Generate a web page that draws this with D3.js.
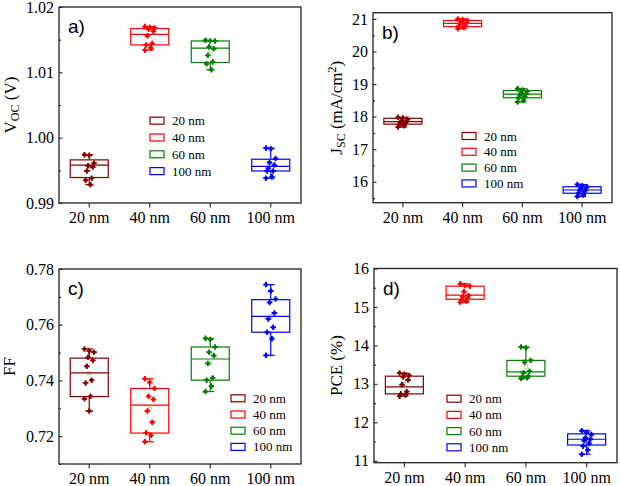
<!DOCTYPE html>
<html>
<head>
<meta charset="utf-8">
<script src="https://cdn.jsdelivr.net/npm/d3@7"></script>
<style>
  body { margin: 0; background: #fff; }
  svg { display: block; }
</style>
</head>
<body>
<svg id="chart" width="620" height="486"></svg>
<script>
// categories
const groups = ["20 nm", "40 nm", "60 nm", "100 nm"];

// box stats per group: [q1, median, q3]
const vocBoxes = [[0.9939, 0.9958, 0.9966], [1.0142, 1.0158, 1.0167], [1.0115, 1.0137, 1.0148], [0.9949, 0.9956, 0.9967]];
const vocPoints = [
  [0.9974, 0.9973, 0.9961, 0.9957, 0.9955, 0.9949, 0.9938, 0.9935, 0.9928],
  [1.0170, 1.0169, 1.0168, 1.0166, 1.0163, 1.0156, 1.0144, 1.0142, 1.0137, 1.0134],
  [1.0149, 1.0148, 1.0148, 1.0139, 1.0136, 1.0126, 1.0116, 1.0113, 1.0104],
  [0.9984, 0.9983, 0.9968, 0.9962, 0.9958, 0.9953, 0.9949, 0.9949, 0.9940, 0.9938]
];

const jscBoxes = [[17.77, 17.85, 17.95], [20.76, 20.86, 20.95], [18.58, 18.69, 18.80], [15.65, 15.75, 15.85]];
const jscPoints = [
  [17.98, 17.96, 17.92, 17.88, 17.85, 17.82, 17.80, 17.76, 17.72, 17.68],
  [21.00, 20.98, 20.95, 20.92, 20.88, 20.85, 20.82, 20.78, 20.74, 20.70],
  [18.86, 18.82, 18.78, 18.74, 18.70, 18.66, 18.62, 18.58, 18.50, 18.45],
  [15.92, 15.88, 15.85, 15.80, 15.77, 15.74, 15.70, 15.65, 15.60, 15.55]
];

const ffBoxes = [[0.7342, 0.7427, 0.7480], [0.7211, 0.7311, 0.7371], [0.7401, 0.7477, 0.7520], [0.7573, 0.7630, 0.7690]];
const ffPoints = [
  [0.7513, 0.7505, 0.7501, 0.7483, 0.7472, 0.7451, 0.7401, 0.7391, 0.7343, 0.7334, 0.7290],
  [0.7406, 0.7393, 0.7371, 0.7343, 0.7332, 0.7290, 0.7250, 0.7212, 0.7203, 0.7180],
  [0.7551, 0.7547, 0.7520, 0.7501, 0.7489, 0.7461, 0.7409, 0.7401, 0.7379, 0.7360],
  [0.7744, 0.7721, 0.7692, 0.7680, 0.7642, 0.7621, 0.7591, 0.7573, 0.7550, 0.7490]
];

const pceBoxes = [[12.74, 12.92, 13.20], [15.20, 15.31, 15.54], [13.20, 13.31, 13.61], [11.41, 11.56, 11.70]];
const pcePoints = [
  [13.28, 13.25, 13.22, 13.18, 13.10, 12.98, 12.80, 12.74, 12.71, 12.68],
  [15.60, 15.56, 15.54, 15.40, 15.30, 15.27, 15.24, 15.18, 15.15, 15.12],
  [13.96, 13.94, 13.61, 13.56, 13.33, 13.29, 13.20, 13.18, 13.16, 13.14],
  [11.78, 11.74, 11.68, 11.60, 11.56, 11.52, 11.45, 11.38, 11.28, 11.17]
];

// tick values
const vocTicks = [0.99, 1.00, 1.01, 1.02];
const vocMinor = [0.995, 1.005, 1.015];
const jscTicks = [16, 17, 18, 19, 20, 21];
const jscMinor = [15.5, 16.5, 17.5, 18.5, 19.5, 20.5];
const ffTicks = [0.72, 0.74, 0.76, 0.78];
const ffMinor = [0.71, 0.73, 0.75, 0.77];
const pceTicks = [11, 12, 13, 14, 15, 16];
const pceMinor = [11.5, 12.5, 13.5, 14.5, 15.5];

const colors = ["#800000", "#ff0000", "#008000", "#0000ff"];
const serif = "'Liberation Serif', 'Times New Roman', serif";
const sans = "'Liberation Sans', Arial, sans-serif";

const svg = d3.select("#chart");

let panels = [
  {letter: "a)", boxes: vocBoxes, points: vocPoints, ticks: vocTicks, minor: vocMinor, fmt: ".2f",
   domain: [0.99, 1.02], left: 59, right: 301, top: 7, bottom: 203,
   title: "voc", titleX: 16, legX: 150, legY: 120.7, legDy: 16.8},
  {letter: "b)", boxes: jscBoxes, points: jscPoints, ticks: jscTicks, minor: jscMinor, fmt: "d",
   domain: [15.36, 21.19], left: 373, right: 612, top: 12.7, bottom: 202.7,
   title: "jsc", titleX: 342, legX: 462, legY: 136, legDy: 15.8},
  {letter: "c)", boxes: ffBoxes, points: ffPoints, ticks: ffTicks, minor: ffMinor, fmt: ".2f",
   domain: [0.71, 0.78], left: 59, right: 301, top: 269, bottom: 464,
   title: "ff", titleX: 15, legX: 231, legY: 398.3, legDy: 16.2},
  {letter: "d)", boxes: pceBoxes, points: pcePoints, ticks: pceTicks, minor: pceMinor, fmt: "d",
   domain: [10.95, 16], left: 374, right: 617, top: 268.5, bottom: 462.7,
   title: "pce", titleX: 342, legX: 447, legY: 398.7, legDy: 16.2}
];

function drawTitle(g, p) {
  let cy = (p.top + p.bottom) / 2;
  let t = g.append("text")
    .attr("transform", "translate(" + p.titleX + "," + cy + ") rotate(-90)")
    .attr("text-anchor", "middle")
    .style("font-family", serif)
    .style("font-size", "17px")
    .attr("fill", "#000");
  if (p.title == "voc") {
    t.append("tspan").text("V");
    t.append("tspan").style("font-size", "12px").attr("dy", 3).text("OC");
    t.append("tspan").attr("dy", -3).text(" (V)");
  } else if (p.title == "jsc") {
    t.append("tspan").text("J");
    t.append("tspan").style("font-size", "12px").attr("dy", 3).text("SC");
    t.append("tspan").attr("dy", -3).text(" (mA/cm");
    t.append("tspan").style("font-size", "12px").attr("dy", -6).text("2");
    t.append("tspan").attr("dy", 6).text(")");
  } else if (p.title == "ff") {
    t.text("FF");
  } else {
    t.text("PCE (%)");
  }
}

function drawPanel(p) {
  let g = svg.append("g");

  let x = d3.scaleBand().domain(groups).range([p.left, p.right]);
  let y = d3.scaleLinear().domain(p.domain).range([p.bottom, p.top]);
  let cx = d => x(d) + x.bandwidth() / 2;
  let half = 19;

  // y axis major + minor ticks (inward)
  let yAxis = g.append("g")
    .attr("transform", "translate(" + p.left + ",0)")
    .call(d3.axisLeft(y).tickValues(p.ticks).tickFormat(d3.format(p.fmt))
      .tickSizeInner(-3.5).tickSizeOuter(0).tickPadding(5));
  yAxis.select(".domain").remove();
  yAxis.selectAll("text").style("font-family", serif).style("font-size", "16px").attr("fill", "#000");
  yAxis.selectAll("line").attr("stroke", "#222").attr("stroke-width", 1.1);

  let yMinor = g.append("g")
    .attr("transform", "translate(" + p.left + ",0)")
    .call(d3.axisLeft(y).tickValues(p.minor).tickFormat("").tickSizeInner(-2).tickSizeOuter(0));
  yMinor.select(".domain").remove();
  yMinor.selectAll("line").attr("stroke", "#222").attr("stroke-width", 1.1);

  // x axis (outward ticks)
  let xAxis = g.append("g")
    .attr("transform", "translate(0," + p.bottom + ")")
    .call(d3.axisBottom(x).tickSizeInner(4.5).tickSizeOuter(0).tickPadding(4));
  xAxis.select(".domain").remove();
  xAxis.selectAll("text").style("font-family", serif).style("font-size", "16px").attr("fill", "#000");
  xAxis.selectAll("line").attr("stroke", "#222").attr("stroke-width", 1.1);

  // frame
  g.append("rect")
    .attr("x", p.left).attr("y", p.top)
    .attr("width", p.right - p.left).attr("height", p.bottom - p.top)
    .attr("fill", "none").attr("stroke", "#222").attr("stroke-width", 1.3);

  // boxes
  groups.forEach((grp, i) => {
    let b = p.boxes[i];
    let pts = p.points[i];
    let lo = d3.min(pts), hi = d3.max(pts);
    let c = colors[i];
    let bx = g.append("g").attr("stroke", c).attr("stroke-width", 1.2).attr("fill", "none");

    // whiskers
    if (hi > b[2]) {
      bx.append("line").attr("x1", cx(grp)).attr("x2", cx(grp)).attr("y1", y(b[2])).attr("y2", y(hi));
      bx.append("line").attr("x1", cx(grp) - 4).attr("x2", cx(grp) + 4).attr("y1", y(hi)).attr("y2", y(hi));
    }
    if (lo < b[0]) {
      bx.append("line").attr("x1", cx(grp)).attr("x2", cx(grp)).attr("y1", y(b[0])).attr("y2", y(lo));
      bx.append("line").attr("x1", cx(grp) - 4).attr("x2", cx(grp) + 4).attr("y1", y(lo)).attr("y2", y(lo));
    }

    bx.append("rect")
      .attr("x", cx(grp) - half).attr("y", y(b[2]))
      .attr("width", half * 2).attr("height", y(b[0]) - y(b[2]));
    bx.append("line")
      .attr("x1", cx(grp) - half).attr("x2", cx(grp) + half)
      .attr("y1", y(b[1])).attr("y2", y(b[1]));

    // mean marker
    let m = d3.mean(pts);
    g.append("rect")
      .attr("x", cx(grp) - 1.5).attr("y", y(m) - 1.5)
      .attr("width", 3).attr("height", 3)
      .attr("fill", "none").attr("stroke", c).attr("stroke-opacity", 0.35).attr("stroke-width", 0.8);

    // points with small fixed spread
    let dots = g.append("g").attr("fill", c).selectAll("g")
      .data(pts)
      .enter()
      .append("g")
      .attr("transform", (d, j) => {
        let jit = ((j * 4) % 9 - 4) * 1.2;
        return "translate(" + (cx(grp) + jit) + "," + y(d) + ")";
      });
    dots.append("path").attr("d", d3.symbol().type(d3.symbolCross).size(17));
    dots.append("circle").attr("r", 1.8);
  });

  // panel letter
  g.append("text")
    .attr("x", p.left + 9).attr("y", p.top + 26)
    .style("font-family", sans).style("font-size", "19px").attr("fill", "#000")
    .text(p.letter);

  // legend
  let leg = g.append("g");
  groups.forEach((grp, i) => {
    let ly = p.legY + i * p.legDy;
    leg.append("rect")
      .attr("x", p.legX).attr("y", ly - 3.5)
      .attr("width", 14).attr("height", 7)
      .attr("fill", "none").attr("stroke", colors[i]).attr("stroke-width", 1.2);
    leg.append("text")
      .attr("x", p.legX + 22).attr("y", ly).attr("dy", "0.35em")
      .style("font-family", serif).style("font-size", "13px").attr("fill", "#000")
      .text(grp);
  });

  drawTitle(g, p);
}

panels.forEach(drawPanel);
</script>
</body>
</html>
